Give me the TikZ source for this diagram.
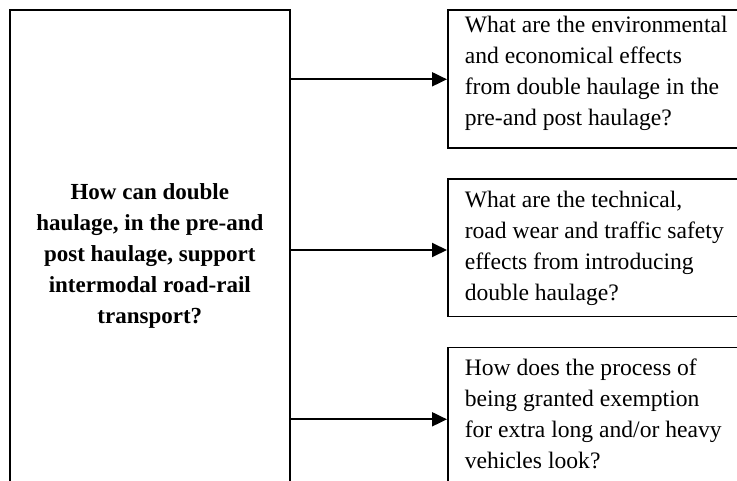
\documentclass[tikz,border=0pt]{standalone}
\usepackage{fontspec}
\setmainfont{Liberation Serif}
\usetikzlibrary{arrows.meta}

\tikzset{
  outline/.style={draw=black, line width=1.6pt, inner xsep=0pt, inner ysep=0pt, anchor=north west},
  qbox/.style={outline, inner xsep=17pt},
  link/.style={line width=2pt, -{Triangle[length=15pt,width=14pt]}},
}

% fixed-size text block: height, width, first-baseline drop, format, text
\newcommand{\textblock}[5]{%
  \parbox[c][#1][t]{#2}{\fontsize{23.6pt}{31pt}\selectfont#4\rule{0pt}{#3}#5}}

\begin{document}
\begin{tikzpicture}[x=1pt, y=-1pt]
  \useasboundingbox (0,0) rectangle (737,481);
  \clip (0,0) rectangle (737,481);

  % main research question
  \node[outline] (main) at (9,9.5)
    {\textblock{520pt}{280pt}{189pt}{\centering\bfseries\fontsize{23pt}{31pt}\selectfont}{How can double\\
      haulage, in the pre-and\\
      post haulage, support\\
      intermodal road-rail\\
      transport?}};

  % sub-questions
  \node[qbox] (q1) at (447,9.5)
    {\textblock{137.5pt}{300pt}{22.5pt}{\raggedright}{What are the environmental\\
      and economical effects\\
      from double haulage in the\\
      pre-and post haulage?}};

  \node[qbox] (q2) at (447,178.3)
    {\textblock{137.4pt}{300pt}{28.4pt}{\raggedright}{What are the technical,\\
      road wear and traffic safety\\
      effects from introducing\\
      double haulage?}};

  \node[qbox] (q3) at (447,346.7)
    {\textblock{200pt}{300pt}{28.3pt}{\raggedright}{How does the process of\\
      being granted exemption\\
      for extra long and/or heavy\\
      vehicles look?}};

  % connector heights
  \coordinate (h1) at (0,79.3);
  \coordinate (h2) at (0,250);
  \coordinate (h3) at (0,419.3);

  \draw[link] (main.east |- h1) -- (q1.west |- h1);
  \draw[link] (main.east |- h2) -- (q2.west |- h2);
  \draw[link] (main.east |- h3) -- (q3.west |- h3);
\end{tikzpicture}
\end{document}
